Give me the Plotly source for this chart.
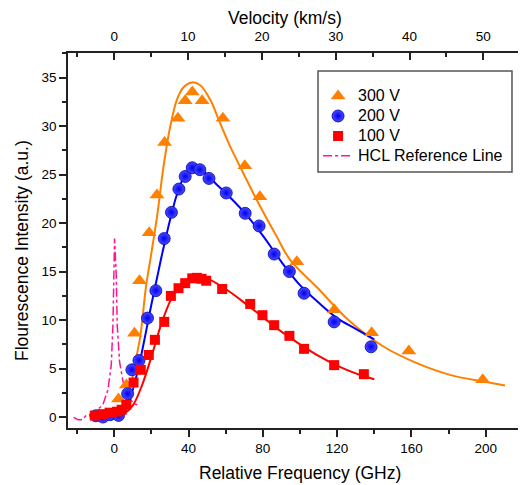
import plotly.graph_objects as go

# ---- data ----
f300 = [2.3, 6.5, 10.9, 13.6, 18.8, 23.0, 27.1, 34.3, 38.2, 42.0, 47.3, 58.5, 70.3, 78.4, 98.3, 118.5, 138.6, 158.6, 198.4]
i300 = [1.85, 3.3, 8.65, 14.06, 19.0, 22.9, 28.3, 30.8, 32.6, 33.5, 32.6, 30.8, 25.9, 22.7, 16.0, 11.05, 8.7, 6.8, 3.84]

f200 = [-9.9, -6.1, -2.2, 2.3, 7.2, 9.5, 13.3, 17.9, 22.4, 26.9, 30.8, 34.8, 38.2, 42.0, 46.1, 51.0, 60.3, 70.5, 78.0, 86.1, 94.3, 102.2, 118.4, 138.3]
i200 = [0.13, 0.0, 0.24, 0.17, 2.4, 4.87, 5.83, 10.2, 13.03, 18.4, 21.1, 23.5, 24.8, 25.7, 25.5, 24.6, 23.1, 21.0, 19.7, 16.8, 15.0, 12.76, 9.81, 7.24]

f100 = [-10.5, -6.5, -2.5, 1.5, 4.0, 6.5, 10.4, 14.3, 18.6, 21.9, 26.9, 30.5, 34.6, 38.2, 42.0, 44.5, 47.0, 49.5, 58.1, 73.2, 79.8, 86.1, 94.3, 102.2, 118.4, 134.4]
i100 = [0.15, 0.3, 0.45, 0.55, 0.75, 1.27, 3.56, 4.87, 6.4, 7.96, 9.81, 12.49, 13.28, 13.8, 14.3, 14.35, 14.25, 14.05, 13.2, 11.66, 10.5, 9.47, 8.37, 7.03, 5.35, 4.42]

# fitted curves
fit300_f = [3.8, 6.5, 9.1, 11.8, 14.0, 17.2, 19.4, 23.0, 26.5, 30.1, 33.7, 37.3, 41.8, 46.3, 51.7, 57.0, 62.4, 69.6, 78.6, 87.5, 94.7, 109.0, 127.0, 144.9, 162.9, 180.8, 198.7, 210.4]
fit300_i = [0.06, 1.27, 3.3, 6.07, 8.3, 13.6, 16.2, 20.6, 25.8, 29.9, 32.7, 34.0, 34.5, 34.2, 32.7, 30.3, 27.9, 25.1, 21.7, 18.6, 16.2, 13.4, 9.84, 7.27, 5.56, 4.35, 3.66, 3.25]

fit200_f = [2, 5, 8, 11, 14, 17, 20, 23, 26, 30, 34, 38, 42, 46, 50, 55, 60, 70, 80, 90, 100, 110, 120, 130, 140]
fit200_i = [0.0, 0.3, 1.6, 3.5, 5.9, 8.7, 11.6, 14.3, 17.0, 20.3, 23.1, 24.9, 25.6, 25.6, 25.0, 24.0, 23.1, 21.1, 18.7, 16.0, 13.6, 11.8, 10.2, 9.1, 8.0]

fit100_f = [0, 5, 10, 15, 20, 25, 30, 35, 40, 45, 50, 60, 70, 80, 90, 100, 110, 120, 130, 140]
fit100_i = [0.0, 0.3, 1.2, 3.3, 6.2, 9.4, 11.9, 13.5, 14.3, 14.5, 14.3, 13.2, 11.8, 10.3, 8.8, 7.5, 6.3, 5.3, 4.5, 3.9]

hcl_f = [-21.9, -19.5, -17.2, -15.1, -11.5, -6.1, -3.4, -1.6, -0.7, -0.16, 0.16, 1.08, 1.6, 2.85, 4.7, 7.4, 10.1, 11.8, 14.0]
hcl_i = [-0.04, -0.28, -0.28, 0.16, 0.31, 1.27, 2.81, 5.38, 9.5, 14.6, 18.4, 14.6, 9.5, 5.72, 3.66, 2.3, 1.44, 1.27, 1.5]

ORANGE = "#FF8000"
BLUE = "#0000FF"
RED = "#FF0000"
PINK = "#FF1493"
FONT = "Arial, Liberation Sans, sans-serif"


def big(s):
    return '<span style="font-size:16px">' + s + '</span>'


fig = go.Figure()

fig.add_trace(go.Scatter(x=hcl_f, y=hcl_i, mode="lines", name=big("HCL Reference Line"),
                         line=dict(color=PINK, width=1.5, dash="dashdot"), legendrank=4))
fig.add_trace(go.Scatter(x=fit300_f, y=fit300_i, mode="lines", line=dict(color=ORANGE, width=2, shape="spline"), showlegend=False))
fig.add_trace(go.Scatter(x=fit200_f, y=fit200_i, mode="lines", line=dict(color=BLUE, width=2, shape="spline"), showlegend=False))
fig.add_trace(go.Scatter(x=fit100_f, y=fit100_i, mode="lines", line=dict(color=RED, width=2, shape="spline"), showlegend=False))
fig.add_trace(go.Scatter(x=f300, y=i300, mode="markers", name=big("300 V"), legendrank=1,
                         marker=dict(symbol="triangle-up", size=13, color=ORANGE, line=dict(width=0))))
fig.add_trace(go.Scatter(x=f200, y=i200, mode="markers", name=big("200 V"), legendrank=2,
                         marker=dict(symbol="circle", size=12, color="#4a4aff",
                                     gradient=dict(type="radial", color="#0000ee"),
                                     line=dict(width=0.8, color="#0000b0"))))
fig.add_trace(go.Scatter(x=f100, y=i100, mode="markers", name=big("100 V"), legendrank=3,
                         marker=dict(symbol="square", size=10, color=RED, line=dict(width=0))))

fig.add_trace(go.Scatter(x=[0], y=[0], xaxis="x2", yaxis="y", mode="markers",
                         marker=dict(opacity=0), showlegend=False, hoverinfo="skip"))
fig.add_trace(go.Scatter(x=[0], y=[0], xaxis="x", yaxis="y2", mode="markers",
                         marker=dict(opacity=0), showlegend=False, hoverinfo="skip"))

tickfont = dict(family=FONT, size=13.5, color="#000")
# the page body has an 8px margin, so the figure is sized/margined to put the
# plot area at page x 68..526, y 53..428
fig.update_layout(
    width=518, height=477,
    margin=dict(l=60, r=0, t=45, b=57, autoexpand=False),
    paper_bgcolor="white", plot_bgcolor="white",
    font=dict(family=FONT, color="#000"),
    xaxis=dict(range=[-24.9, 221.7], tick0=0, dtick=40, ticks="outside", ticklen=7, tickwidth=1.5,
               tickcolor="#222", showline=True, linecolor="#222", linewidth=1.5, automargin=False,
               showgrid=False, zeroline=False, tickfont=tickfont,
               minor=dict(ticks="outside", ticklen=4, tickwidth=1.5, dtick=20, tick0=0, tickcolor="#222")),
    xaxis2=dict(range=[-6.27, 55.78], overlaying="x", side="top", anchor="y", tick0=0, dtick=10,
                ticks="inside", ticklen=7, tickwidth=1.5, tickcolor="#222", showline=True, automargin=False,
                linecolor="#222", linewidth=1.5, showgrid=False, zeroline=False, tickfont=tickfont,
                ticklabelstandoff=5,
                minor=dict(ticks="inside", ticklen=4, tickwidth=1.5, dtick=5, tick0=0, tickcolor="#222")),
    yaxis=dict(range=[-1.13, 37.53], tick0=0, dtick=5, ticks="outside", ticklen=7, tickwidth=1.5,
               tickcolor="#222", showline=True, linecolor="#222", linewidth=1.5, automargin=False,
               showgrid=False, zeroline=False, tickfont=tickfont,
               minor=dict(ticks="outside", ticklen=4, tickwidth=1.5, dtick=2.5, tick0=0, tickcolor="#222")),
    yaxis2=dict(range=[-1.13, 37.53], overlaying="y", side="right", anchor="x", tick0=0, dtick=5,
                ticks="inside", ticklen=4, tickwidth=1, tickcolor="#aaa", showline=False, automargin=False,
                showgrid=False, zeroline=False, showticklabels=False),
    legend=dict(x=0.546, y=0.925, xanchor="left", yanchor="top", bgcolor="rgba(0,0,0,0)",
                borderwidth=0, font=dict(family=FONT, size=13, color="#000"),
                traceorder="normal", tracegroupgap=0),
    shapes=[dict(type="rect", xref="paper", yref="paper", x0=0.5459, x1=0.9694, y0=0.6827, y1=0.952,
                 line=dict(color="#555", width=1.5), fillcolor="rgba(0,0,0,0)", layer="above")],
    annotations=[
        dict(text="Velocity (km/s)", xref="paper", yref="paper", x=0.473, y=1.094,
             showarrow=False, font=dict(family=FONT, size=17.5, color="#000"), xanchor="center", yanchor="middle",
             borderpad=0),
        dict(text="Relative Frequency (GHz)", xref="paper", yref="paper", x=0.5066, y=-0.12,
             showarrow=False, font=dict(family=FONT, size=17.5, color="#000"), xanchor="center", yanchor="middle"),
        dict(text="Flourescence Intensity (a.u.)", xref="paper", yref="paper", x=-0.1004, y=0.472,
             textangle=-90, showarrow=False, font=dict(family=FONT, size=17.5, color="#000"),
             xanchor="center", yanchor="middle"),
    ],
    showlegend=True,
)

fig.write_html("out.html")
